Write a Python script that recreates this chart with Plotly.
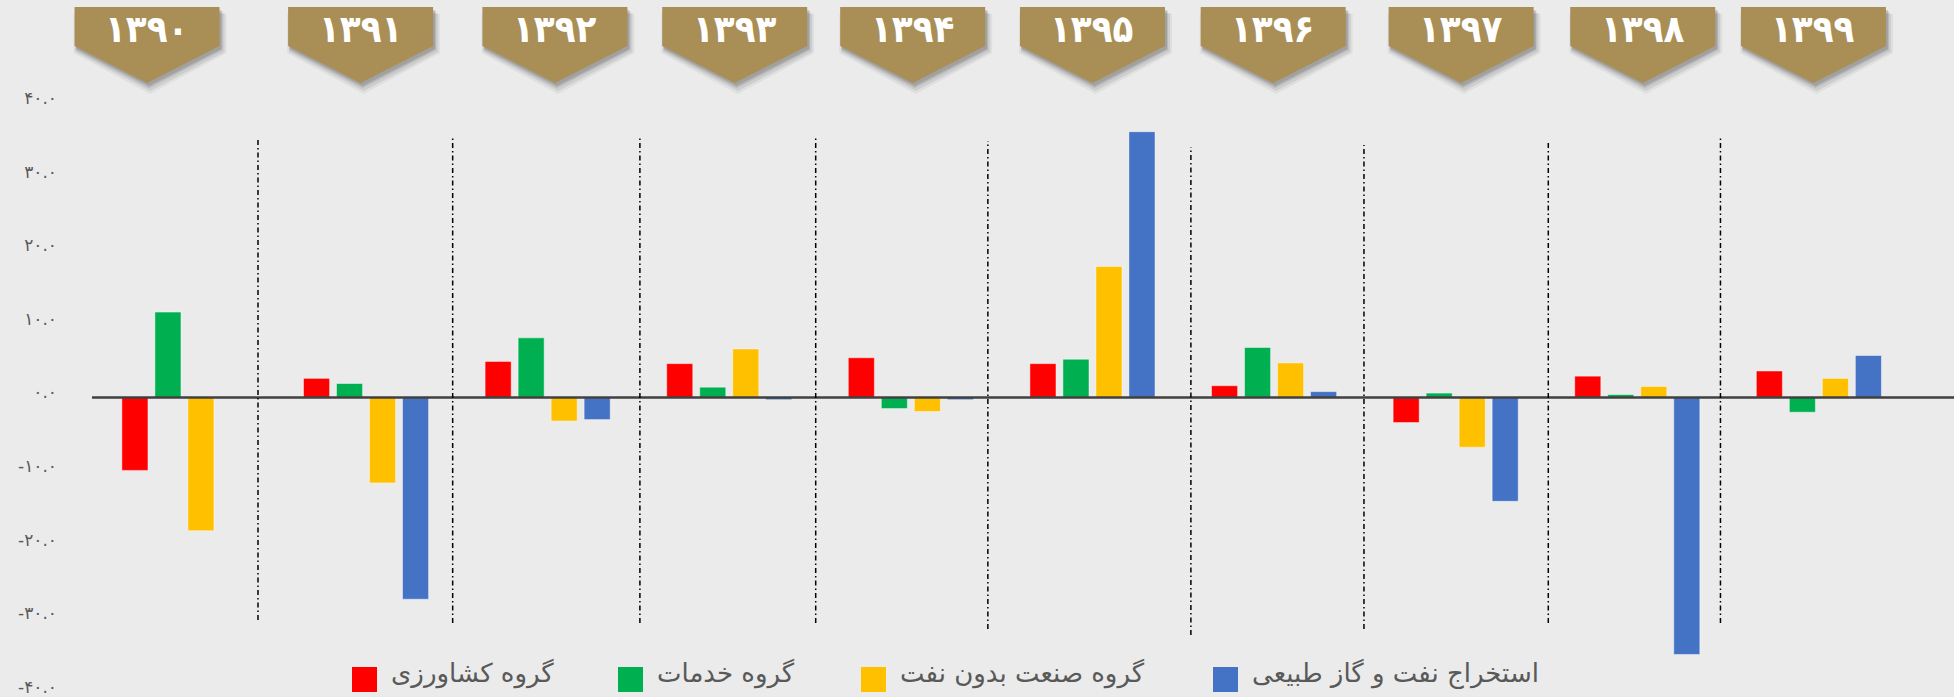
import plotly.graph_objects as go

# ---------------- data ----------------
years = ["۱۳۹۰", "۱۳۹۱", "۱۳۹۲", "۱۳۹۳", "۱۳۹۴", "۱۳۹۵", "۱۳۹۶", "۱۳۹۷", "۱۳۹۸", "۱۳۹۹"]
agriculture = [-9.9, 2.6, 4.9, 4.6, 5.4, 4.6, 1.6, -3.4, 2.9, 3.6]
services = [11.6, 1.9, 8.1, 1.4, -1.5, 5.2, 6.8, 0.6, 0.4, -2.0]
industry_no_oil = [-18.1, -11.6, -3.2, 6.6, -1.9, 17.8, 4.7, -6.75, 1.5, 2.6]
oil_gas = [None, -27.4, -3.0, -0.3, -0.3, 36.1, 0.8, -14.1, -34.9, 5.7]

series_names = ["گروه کشاورزی", "گروه خدمات", "گروه صنعت بدون نفت", "استخراج نفت و گاز طبیعی"]
series_values = [agriculture, services, industry_no_oil, oil_gas]
series_colors = ["#FF0000", "#00B050", "#FFC000", "#4472C4"]

y_tick_values = [40, 30, 20, 10, 0, -10, -20, -30, -40]
y_tick_text = ["۴۰.۰", "۳۰.۰", "۲۰.۰", "۱۰.۰", "۰.۰", "-۱۰.۰", "-۲۰.۰", "-۳۰.۰", "-۴۰.۰"]

# ---------------- layout constants ----------------
W, H = 1954, 697
PL, PT, PB = 92, 103, 5
PW = W - PL
PH = H - PT - PB
X_LO, X_HI = -0.509, 9.744
BG = "#EBEBEB"
GOLD = "#A98E55"
FONT = "DejaVu Sans"

def px_x(c):
    return PL + (c - X_LO) / (X_HI - X_LO) * PW

def paper_x(px):
    return (px - PL) / PW

def paper_y(py):
    return (PT + PH - py) / PH

fig = go.Figure()
for name, vals, col in zip(series_names, series_values, series_colors):
    fig.add_trace(go.Bar(
        x=years, y=vals, name=name, showlegend=False,
        marker=dict(color=col, line=dict(color="rgba(255,255,255,0.45)", width=1)),
    ))

shapes = []
annotations = []

# zero line drawn above bars
shapes.append(dict(type="line", xref="paper", yref="y", x0=0, x1=1, y0=0, y1=0,
                   line=dict(color="#404040", width=2.5), layer="above"))

# dash-dot dividers between years (category units)
divider_pos = [0.405, 1.477, 2.508, 3.476, 4.424, 5.542, 6.495, 7.510, 8.458]
divider_top = [137, 137, 137, 137, 141, 147, 145, 140, 137]
divider_bot = [620, 623, 623, 623, 629, 635, 629, 623, 623]
for d, t, b in zip(divider_pos, divider_top, divider_bot):
    shapes.append(dict(type="line", xref="x", yref="paper", x0=d, x1=d,
                       y0=paper_y(b), y1=paper_y(t),
                       line=dict(color="#000000", width=1.5, dash="5px,3px,1.5px,3px"),
                       layer="above"))

# year banners (pentagons) with soft shadow
banner_shift = [-0.206, -0.03, 0.04, 0.03, 0.01, 0.0, -0.005, 0.03, 0.03, -0.03]
BW2, BTOP, BSH, BTIP = 72.5, 7, 46, 83

def pent(cx, dx=0, dy=0, grow=0):
    pts = [(cx - BW2 + dx - grow, BTOP + dy), (cx + BW2 + dx + grow, BTOP + dy),
           (cx + BW2 + dx + grow, BSH + dy), (cx + dx, BTIP + dy + grow),
           (cx - BW2 + dx - grow, BSH + dy)]
    return "M " + " L ".join(f"{paper_x(x):.5f},{paper_y(y):.5f}" for x, y in pts) + " Z"

for i, (yr, s) in enumerate(zip(years, banner_shift)):
    cx = px_x(i + s)
    for dx, dy, g, op in [(3, 7, 4, 0.05), (3, 6, 2, 0.08), (2, 4, 1, 0.10), (2, 3, 0, 0.12)]:
        shapes.append(dict(type="path", xref="paper", yref="paper", path=pent(cx, dx, dy, g),
                           fillcolor=f"rgba(0,0,0,{op})", line=dict(width=0), layer="above"))
    shapes.append(dict(type="path", xref="paper", yref="paper", path=pent(cx),
                       fillcolor=GOLD, line=dict(width=0), layer="above"))
    annotations.append(dict(text=f"<b>{yr}</b>", xref="paper", yref="paper",
                            x=paper_x(cx), y=paper_y(29), xanchor="center", yanchor="middle",
                            showarrow=False,
                            font=dict(family="DejaVu Sans Condensed, DejaVu Sans", size=38, color="white")))

# legend (squares + labels) placed like the original
legend_left = [352, 618, 861, 1213]
SQ = 25
for name, col, lx in zip(series_names, series_colors, legend_left):
    shapes.append(dict(type="rect", xref="paper", yref="paper",
                       x0=paper_x(lx), x1=paper_x(lx + SQ), y0=paper_y(692), y1=paper_y(667),
                       fillcolor=col, line=dict(width=0), layer="above"))
    annotations.append(dict(text=name, xref="paper", yref="paper",
                            x=paper_x(lx + SQ + 12), y=paper_y(673), xanchor="left", yanchor="middle",
                            showarrow=False, font=dict(family=FONT, size=26, color="#595959")))

fig.update_layout(
    width=W, height=H,
    margin=dict(l=PL, r=0, t=PT, b=PB, pad=0, autoexpand=False),
    paper_bgcolor=BG, plot_bgcolor=BG,
    barmode="group", bargap=0.273, bargroupgap=0.21,
    shapes=shapes, annotations=annotations,
    showlegend=False,
    xaxis=dict(range=[X_LO, X_HI], showticklabels=False, showgrid=False, zeroline=False,
               showline=False, ticks="", automargin=False),
    yaxis=dict(range=[-40, 40], tickvals=y_tick_values, ticktext=y_tick_text,
               showgrid=False, zeroline=False, showline=False, ticks="", automargin=False,
               ticklabelstandoff=34, ticklabelshift=-5, ticklabeloverflow="allow",
               tickfont=dict(family=FONT, size=17, color="#595959")),
    font=dict(family=FONT),
)

fig.write_html("out.html", config={"displayModeBar": False},
               post_script="document.body.style.margin='0';document.body.style.overflow='hidden';document.body.style.background='#EBEBEB';")
